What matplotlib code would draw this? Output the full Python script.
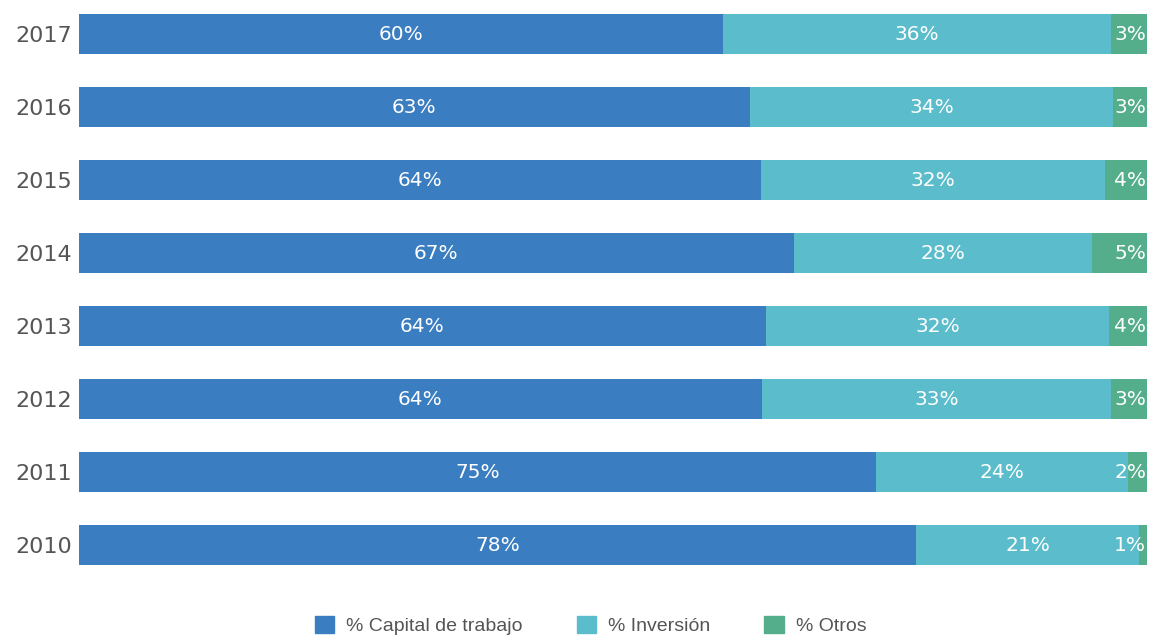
import matplotlib.pyplot as plt
from matplotlib.patches import Patch

years = ["2010", "2011", "2012", "2013", "2014", "2015", "2016", "2017"]
capital = [78.4, 74.6, 63.9, 64.3, 66.9, 63.8, 62.8, 60.3]
inversion = [20.8, 23.6, 32.7, 32.1, 27.9, 32.2, 34.0, 36.3]
otros = [0.8, 1.8, 3.4, 3.6, 5.2, 4.0, 3.2, 3.4]
capital_lbl = ["78%", "75%", "64%", "64%", "67%", "64%", "63%", "60%"]
inversion_lbl = ["21%", "24%", "33%", "32%", "28%", "32%", "34%", "36%"]
otros_lbl = ["1%", "2%", "3%", "4%", "5%", "4%", "3%", "3%"]

c_cap, c_inv, c_otr = "#3a7dc0", "#5bbccb", "#55ae8b"
plt.rcParams["font.family"] = ["Liberation Sans", "DejaVu Sans"]
wide = "DejaVu Sans"

fig = plt.figure(figsize=(11.53, 6.4), dpi=100)
ax = fig.add_axes([0.0685, 0.1028, 0.9265, 0.8897])

y = range(len(years))
left_inv = [c for c in capital]
left_otr = [c + i for c, i in zip(capital, inversion)]
ax.barh(y, capital, height=0.55, color=c_cap)
ax.barh(y, inversion, left=left_inv, height=0.55, color=c_inv)
ax.barh(y, otros, left=left_otr, height=0.55, color=c_otr)

for k in y:
    ax.text(capital[k] / 2, k, capital_lbl[k], color="white", fontsize=14.5,
            family=wide, ha="center", va="center")
    ax.text(left_inv[k] + inversion[k] / 2, k, inversion_lbl[k], color="white",
            fontsize=14.5, family=wide, ha="center", va="center")
    ax.text(left_otr[k] + otros[k] - 0.1, k, otros_lbl[k], color="white",
            fontsize=14.5, family=wide, ha="right", va="center")

tot = [a + b + c for a, b, c in zip(capital, inversion, otros)]
ax.set_xlim(0, max(tot))
ax.set_ylim(-0.4, 7.4)
ax.set_yticks(list(y))
ax.set_yticklabels(years, fontsize=16, color="#555555", family=wide)
ax.tick_params(axis="y", length=0, pad=5)
ax.set_xticks([])
for s in ax.spines.values():
    s.set_visible(False)

handles = [Patch(color=c_cap, label="% Capital de trabajo"),
           Patch(color=c_inv, label="% Inversión"),
           Patch(color=c_otr, label="% Otros")]
fig.legend(handles=handles, loc="center", bbox_to_anchor=(0.512, 0.023), ncol=3,
           frameon=False, fontsize=14, labelcolor="#555555", handlelength=1.0,
           handleheight=1.0, columnspacing=2.8, handletextpad=0.6)

fig.savefig("out.png", dpi=100)
